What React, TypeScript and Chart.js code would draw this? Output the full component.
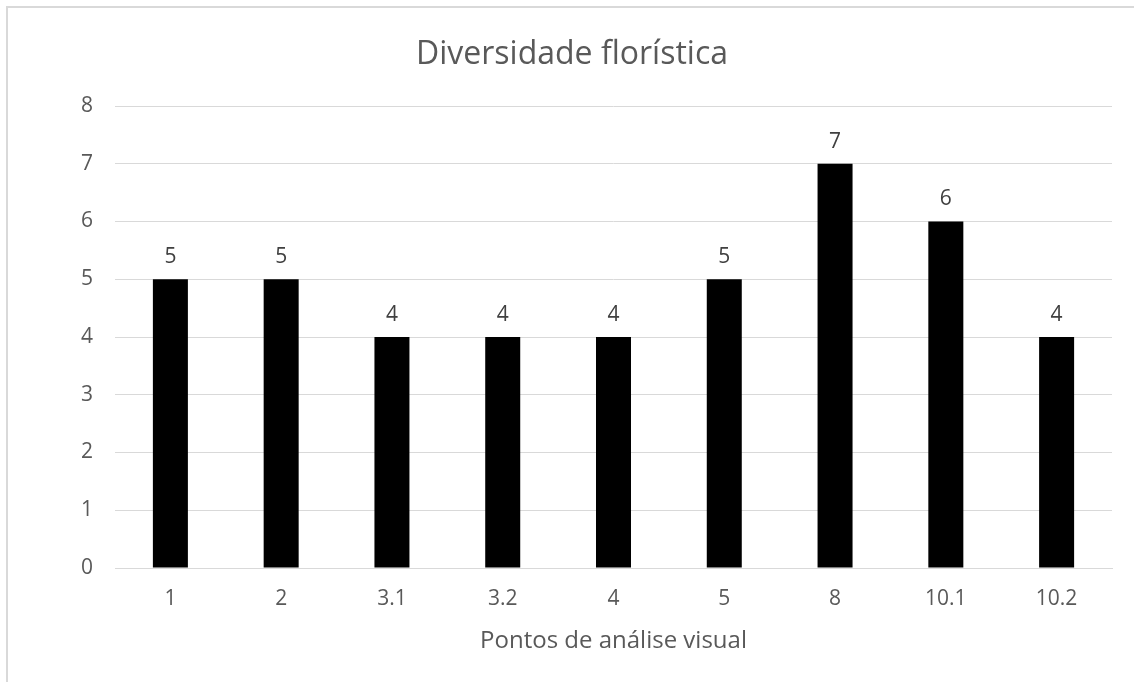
import React, { useEffect, useRef } from "react";
import { Chart, registerables } from "chart.js";

Chart.register(...registerables);

const categories = ["1", "2", "3.1", "3.2", "4", "5", "8", "10.1", "10.2"];
const values = [5, 5, 4, 4, 4, 5, 7, 6, 4];
const yTicks = [0, 1, 2, 3, 4, 5, 6, 7, 8];
const chartTitle = "Diversidade florística";
const xTitle = "Pontos de análise visual";

const FONT = "'Open Sans', 'Noto Sans', sans-serif";

const dataLabels = {
  id: "dataLabels",
  afterDatasetsDraw(chart: any) {
    const ctx = chart.ctx;
    const meta = chart.getDatasetMeta(0);
    ctx.save();
    ctx.font = `21px ${FONT}`;
    ctx.fillStyle = "#404040";
    ctx.textAlign = "center";
    ctx.textBaseline = "middle";
    meta.data.forEach((el: any, i: number) => {
      ctx.fillText(String(values[i]), el.x, el.y - 22);
    });
    ctx.restore();
  },
};

export default function App() {
  const ref = useRef<HTMLCanvasElement>(null);
  useEffect(() => {
    if (!ref.current) return;
    const chart = new Chart(ref.current, {
      type: "bar",
      data: {
        labels: categories,
        datasets: [
          {
            data: values,
            backgroundColor: "#000000",
            borderWidth: 0,
            barPercentage: 0.316,
            categoryPercentage: 1,
          },
        ],
      },
      options: {
        animation: false,
        responsive: false,
        layout: { padding: { left: 32, right: 22, top: 0, bottom: 0 } },
        plugins: {
          legend: { display: false },
          tooltip: { enabled: false },
          title: {
            display: true,
            text: chartTitle,
            color: "#595959",
            font: { family: FONT, size: 32, weight: "normal" as any },
            padding: { top: 36, bottom: 31.6 },
          },
        },
        scales: {
          x: {
            grid: { display: false, drawTicks: false },
            border: { display: true, color: "#d9d9d9", width: 1 },
            ticks: {
              color: "#595959",
              font: { family: FONT, size: 21 },
              padding: 18,
              maxRotation: 0,
            },
            title: {
              display: true,
              text: xTitle,
              color: "#595959",
              font: { family: FONT, size: 24 },
              padding: { top: 0, bottom: 26 },
            },
            afterFit: (s: any) => {
              s.height = 114;
            },
          },
          y: {
            min: 0,
            max: 8,
            afterBuildTicks: (s: any) => {
              s.ticks = yTicks.map((v) => ({ value: v }));
            },
            grid: { color: "#d9d9d9", lineWidth: 1, drawTicks: false },
            border: { display: false },
            ticks: {
              color: "#595959",
              font: { family: FONT, size: 21 },
              padding: 22,
            },
            afterFit: (s: any) => {
              s.width = 83;
            },
          },
        },
      },
      plugins: [dataLabels],
    });
    return () => chart.destroy();
  }, []);

  return (
    <div
      style={{
        position: "fixed",
        left: 0,
        top: 0,
        width: 1134,
        height: 682,
        overflow: "hidden",
        background: "#ffffff",
      }}
    >
      <div
        style={{
          position: "absolute",
          left: 6,
          top: 6,
          width: 1300,
          height: 900,
          border: "2px solid #d9d9d9",
          boxSizing: "border-box",
        }}
      />
      <canvas
        ref={ref}
        width={1134}
        height={682}
        style={{ position: "absolute", left: 0, top: 0, width: 1134, height: 682 }}
      />
    </div>
  );
}
